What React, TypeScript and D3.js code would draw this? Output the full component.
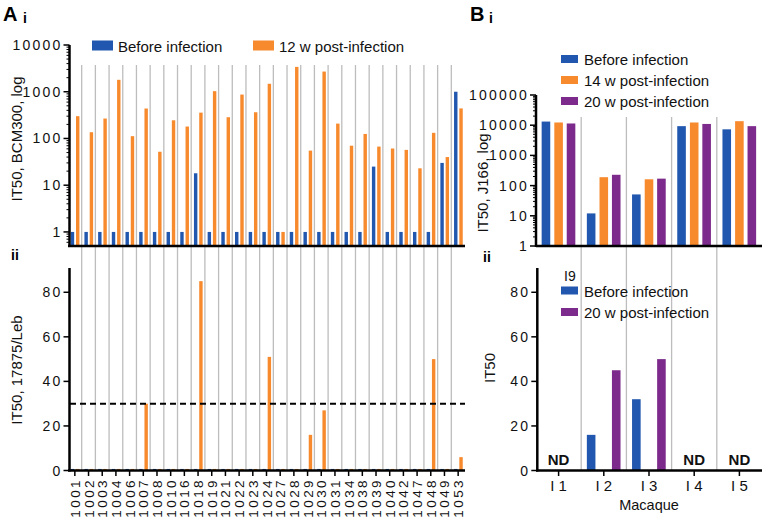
import React from "react";
import * as d3 from "d3";

// panel A – BCM300 (log) and 17875/Leb (linear)
const animals = ["1001", "1002", "1003", "1004", "1006", "1007", "1008", "1010", "1016", "1018", "1019", "1021", "1022", "1023", "1024", "1027", "1028", "1029", "1030", "1031", "1034", "1038", "1039", "1040", "1042", "1047", "1048", "1049", "1053"];
const bcmBefore = [1, 1, 1, 1, 1, 1, 1, 1, 1, 18, 1, 1, 1, 1, 1, 1, 1, 1, 1, 1, 1, 1, 25, 1, 1, 1, 1, 30, 1000];
const bcmPost = [300, 136, 267, 1800, 112, 437, 52, 245, 180, 357, 1030, 285, 870, 364, 1480, 1, 3400, 55, 2700, 208, 70, 125, 67, 61, 57, 23, 132, 40, 440];
const lebBefore = animals.map(() => 0.7);
const lebPost = [0.7, 0.7, 0.7, 0.7, 0.7, 30, 0.7, 0.7, 0.7, 85, 0.7, 0.7, 0.7, 0.7, 51, 0.7, 0.7, 16, 27, 0.7, 0.7, 0.7, 0.7, 0.7, 0.7, 0.7, 50, 0.7, 6];
const lebThreshold = 30;
const legendA = ["Before infection", "12 w post-infection"];
const logTicksA = [1, 10, 100, 1000, 10000];
const linTicks = [0, 20, 40, 60, 80];

// panel B – J166 (log) and I9 (linear)
const macaques = ["I 1", "I 2", "I 3", "I 4", "I 5"];
const j166Before = [13200, 12, 51, 9300, 7300];
const j166Wk14 = [12300, 190, 162, 12300, 13600];
const j166Wk20 = [11400, 228, 170, 11000, 9300];
const i9Before: (number | null)[] = [null, 16, 32, null, null];
const i9Wk20: (number | null)[] = [null, 45, 50, null, null];
const legendB = ["Before infection", "14 w post-infection", "20 w post-infection"];
const legendB2 = ["Before infection", "20 w post-infection"];
const logTicksB = [1, 10, 100, 1000, 10000, 100000];

const BLUE = "#2157ae";
const ORANGE = "#f88a2e";
const PURPLE = "#7c2a8b";
const GRID = "#bdbdbd";
const FONT = "'Liberation Sans', Arial, Helvetica, sans-serif";

const minorTicks = (lo: number, hi: number) => {
  const out: number[] = [];
  for (let p = lo; p < hi; p *= 10) for (let k = 2; k <= 9; k++) if (p * k <= hi) out.push(p * k);
  return out;
};

const fmt = (v: number) => String(v);

export default function App() {
  // scales A
  const xA = d3.scaleBand().domain(animals).range([68, 465]);
  const stepA = xA.step();
  const yLogA = d3.scaleLog().domain([0.5, 10000]).range([246, 45]);
  const yLinA = d3.scaleLinear().domain([0, 90]).range([470.5, 270]);
  const axisLeftA = 69.5;

  // scales B
  const xB = d3.scaleBand().domain(macaques).range([536, 762]);
  const stepB = xB.step();
  const yLogB = d3.scaleLog().domain([1, 100000]).range([246, 95]);
  const yLinB = d3.scaleLinear().domain([0, 90]).range([470.5, 270]);
  const axisLeftB = 536;

  const barWA = stepA * 0.25;
  const offA = [stepA * 0.2, stepA * 0.585];
  const barWB = stepB * 0.19;
  const offB = [stepB * 0.125, stepB * 0.405, stepB * 0.68];

  const tickLabel = { fontFamily: FONT, fontSize: 14, letterSpacing: 2.2, fill: "#111" } as const;

  return (
    <svg width={768} height={521} style={{ position: "absolute", left: 0, top: 0, background: "#fff" }} fontFamily={FONT}>
      {/* titles */}
      <text x={3} y={21} fontSize={20} fontWeight="bold">A</text>
      <text x={23} y={23} fontSize={14} fontWeight="bold">i</text>
      <text x={11} y={260} fontSize={14} fontWeight="bold">ii</text>
      <text x={470} y={21} fontSize={20} fontWeight="bold">B</text>
      <text x={489} y={23} fontSize={14} fontWeight="bold">i</text>
      <text x={483} y={262} fontSize={14} fontWeight="bold">ii</text>

      {/* grid lines A */}
      {animals.slice(1).map((a) => (
        <line key={"ga" + a} x1={xA(a)!} x2={xA(a)!} y1={65} y2={470} stroke={GRID} strokeWidth={1.3} />
      ))}
      {/* grid lines B */}
      {macaques.slice(1).map((m) => (
        <line key={"gb" + m} x1={xB(m)!} x2={xB(m)!} y1={117} y2={470} stroke={GRID} strokeWidth={1.3} />
      ))}

      {/* A(i) bars */}
      {animals.map((a, i) => (
        <g key={"ai" + a}>
          <rect x={xA(a)! + offA[0]} width={barWA} y={yLogA(bcmBefore[i])} height={246 - yLogA(bcmBefore[i])} fill={BLUE} />
          <rect x={xA(a)! + offA[1]} width={barWA} y={yLogA(bcmPost[i])} height={246 - yLogA(bcmPost[i])} fill={ORANGE} />
        </g>
      ))}
      {/* A(ii) bars */}
      {animals.map((a, i) => (
        <g key={"aii" + a}>
          <rect x={xA(a)! + offA[0]} width={barWA} y={yLinA(lebBefore[i])} height={yLinA(0) - yLinA(lebBefore[i])} fill={BLUE} />
          <rect x={xA(a)! + offA[1]} width={barWA} y={yLinA(lebPost[i])} height={yLinA(0) - yLinA(lebPost[i])} fill={ORANGE} />
        </g>
      ))}
      <line x1={70} x2={465} y1={yLinA(lebThreshold)} y2={yLinA(lebThreshold)} stroke="#000" strokeWidth={2} strokeDasharray="6,4" />

      {/* A(i) axes */}
      <line x1={axisLeftA} x2={axisLeftA} y1={45} y2={247} stroke="#000" strokeWidth={2.5} />
      <line x1={68} x2={465} y1={246} y2={246} stroke="#000" strokeWidth={2.5} />
      {logTicksA.map((t) => (
        <g key={"lta" + t}>
          <line x1={axisLeftA - 6} x2={axisLeftA} y1={yLogA(t)} y2={yLogA(t)} stroke="#000" strokeWidth={1.5} />
          <text x={axisLeftA - 7} y={yLogA(t) + 5} textAnchor="end" {...tickLabel}>{fmt(t)}</text>
        </g>
      ))}
      {minorTicks(0.1, 10000).filter((t) => t > 0.5).map((t) => (
        <line key={"mta" + t} x1={axisLeftA - 3} x2={axisLeftA} y1={yLogA(t)} y2={yLogA(t)} stroke="#000" strokeWidth={1} />
      ))}
      <text transform={`translate(22,${139}) rotate(-90)`} textAnchor="middle" fontSize={15} fill="#111">IT50, BCM300, log</text>

      {/* legend A */}
      {legendA.map((l, i) => (
        <g key={"la" + l} transform={`translate(${[92, 253][i]},40.5)`}>
          <rect width={21} height={10} fill={[BLUE, ORANGE][i]} />
          <text x={26} y={11} fontSize={15} fill="#111">{l}</text>
        </g>
      ))}

      {/* A(ii) axes */}
      <line x1={axisLeftA} x2={axisLeftA} y1={268} y2={471.5} stroke="#000" strokeWidth={2.5} />
      <line x1={68} x2={465} y1={470.5} y2={470.5} stroke="#000" strokeWidth={2.5} />
      {linTicks.map((t) => (
        <g key={"lna" + t}>
          <line x1={axisLeftA - 6} x2={axisLeftA} y1={yLinA(t)} y2={yLinA(t)} stroke="#000" strokeWidth={1.5} />
          <text x={axisLeftA - 7} y={yLinA(t) + 5} textAnchor="end" {...tickLabel}>{fmt(t)}</text>
        </g>
      ))}
      {animals.map((a) => (
        <g key={"xa" + a}>
          <line x1={xA(a)! + stepA / 2} x2={xA(a)! + stepA / 2} y1={470.5} y2={476} stroke="#000" strokeWidth={1.5} />
          <text transform={`translate(${xA(a)! + stepA / 2 + 5},478) rotate(-90)`} textAnchor="end" {...tickLabel} fontSize={13.5} letterSpacing={2.4}>{a}</text>
        </g>
      ))}
      <text transform={`translate(22,${370}) rotate(-90)`} textAnchor="middle" fontSize={15} fill="#111">IT50, 17875/Leb</text>

      {/* B(i) bars */}
      {macaques.map((m, i) => (
        <g key={"bi" + m}>
          {[j166Before, j166Wk14, j166Wk20].map((s, k) => (
            <rect key={k} x={xB(m)! + offB[k]} width={barWB} y={yLogB(s[i])} height={246 - yLogB(s[i])} fill={[BLUE, ORANGE, PURPLE][k]} />
          ))}
        </g>
      ))}
      <line x1={axisLeftB} x2={axisLeftB} y1={95} y2={247} stroke="#000" strokeWidth={2.5} />
      <line x1={axisLeftB} x2={762} y1={246} y2={246} stroke="#000" strokeWidth={2.5} />
      {logTicksB.map((t) => (
        <g key={"ltb" + t}>
          <line x1={axisLeftB - 6} x2={axisLeftB} y1={yLogB(t)} y2={yLogB(t)} stroke="#000" strokeWidth={1.5} />
          <text x={axisLeftB - 7} y={yLogB(t) + 5} textAnchor="end" {...tickLabel}>{fmt(t)}</text>
        </g>
      ))}
      {minorTicks(1, 100000).map((t) => (
        <line key={"mtb" + t} x1={axisLeftB - 3} x2={axisLeftB} y1={yLogB(t)} y2={yLogB(t)} stroke="#000" strokeWidth={1} />
      ))}
      <text transform={`translate(488,${183}) rotate(-90)`} textAnchor="middle" fontSize={15} fill="#111">IT50, J166, log</text>
      {legendB.map((l, i) => (
        <g key={"lb" + l} transform={`translate(561,${55 + i * 21})`}>
          <rect width={17} height={8} fill={[BLUE, ORANGE, PURPLE][i]} />
          <text x={23} y={10} fontSize={15} fill="#111">{l}</text>
        </g>
      ))}

      {/* B(ii) bars */}
      {macaques.map((m, i) => {
        const b = i9Before[i];
        const p = i9Wk20[i];
        if (b == null || p == null) {
          return (
            <text key={"nd" + m} x={xB(m)! + stepB / 2} y={465} textAnchor="middle" fontSize={15} fontWeight="bold" fill="#111">ND</text>
          );
        }
        return (
          <g key={"bii" + m}>
            <rect x={xB(m)! + offB[0]} width={barWB} y={yLinB(b)} height={yLinB(0) - yLinB(b)} fill={BLUE} />
            <rect x={xB(m)! + offB[2]} width={barWB} y={yLinB(p)} height={yLinB(0) - yLinB(p)} fill={PURPLE} />
          </g>
        );
      })}
      <line x1={537.3} x2={537.3} y1={268} y2={471.5} stroke="#000" strokeWidth={2.5} />
      <line x1={axisLeftB} x2={762} y1={470.5} y2={470.5} stroke="#000" strokeWidth={2.5} />
      {linTicks.map((t) => (
        <g key={"lnb" + t}>
          <line x1={537.3 - 6} x2={537.3} y1={yLinB(t)} y2={yLinB(t)} stroke="#000" strokeWidth={1.5} />
          <text x={537.3 - 7} y={yLinB(t) + 5} textAnchor="end" {...tickLabel}>{fmt(t)}</text>
        </g>
      ))}
      {macaques.map((m) => (
        <g key={"xb" + m}>
          <line x1={xB(m)! + stepB / 2} x2={xB(m)! + stepB / 2} y1={470.5} y2={476} stroke="#000" strokeWidth={1.5} />
          <text x={xB(m)! + stepB / 2} y={491} textAnchor="middle" fontSize={15} fill="#111">{m}</text>
        </g>
      ))}
      <text x={649} y={510} textAnchor="middle" fontSize={14.5} fill="#111">Macaque</text>
      <text transform={`translate(495,${368}) rotate(-90)`} textAnchor="middle" fontSize={15} fill="#111">IT50</text>
      <text x={564} y={281} fontSize={14} fill="#111">I9</text>
      {legendB2.map((l, i) => (
        <g key={"lb2" + l} transform={`translate(561,${286.5 + i * 21.5})`}>
          <rect width={17} height={8} fill={[BLUE, PURPLE][i]} />
          <text x={23} y={10} fontSize={15} fill="#111">{l}</text>
        </g>
      ))}
    </svg>
  );
}
